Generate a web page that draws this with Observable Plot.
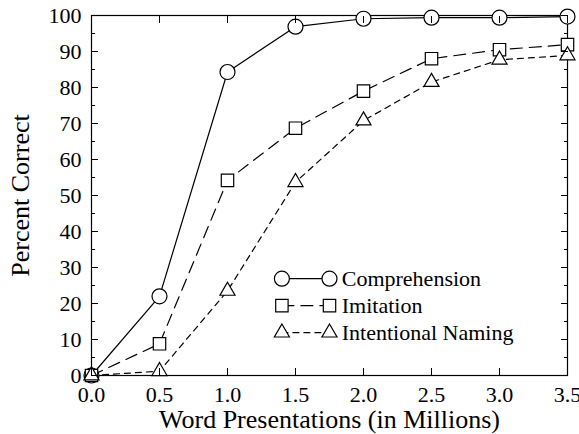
<!DOCTYPE html>
<html><head><meta charset="utf-8">
<script src="https://cdn.jsdelivr.net/npm/d3@7"></script>
<script src="https://cdn.jsdelivr.net/npm/@observablehq/plot@0.6"></script>
<style>
body{margin:0;background:#fff}
svg text, svg g{font-family:"Liberation Serif", serif !important}
[aria-label="x-axis label"] text,[aria-label="y-axis label"] text{font-size:26px}
</style></head><body><div id="chart"></div>
<script>
const presentations = [0, 0.5, 1.0, 1.5, 2.0, 2.5, 3.0, 3.5];
const comprehension = [0, 22, 84.3, 96.9, 99.1, 99.4, 99.4, 99.7];
const imitation = [0, 8.8, 54.2, 68.7, 79.0, 88.0, 90.5, 91.9];
const naming = [0, 1.2, 23.5, 53.7, 70.8, 81.5, 87.7, 88.9];
const seriesNames = ["Comprehension", "Imitation", "Intentional Naming"];
const xTicks = [0, 0.5, 1.0, 1.5, 2.0, 2.5, 3.0, 3.5];
const yTicks = [0, 10, 20, 30, 40, 50, 60, 70, 80, 90, 100];
const yMinorTicks = [5, 15, 25, 35, 45, 55, 65, 75, 85, 95];

const values = [comprehension, imitation, naming];
const symbols = ["circle", "square", "triangle"];
const radii = [7.5, 7, 5.6];
const dashes = [null, "12,7", "6,5"];
const serif = "Liberation Serif";

const rows = (i) => presentations.map((x, j) => ({x, y: values[i][j], series: seriesNames[i]}));

// legend placement (in data units, inside the frame)
const legX1 = 1.4, legX2 = 1.75, legTextX = 1.84;
const legY = [26.9, 19.4, 11.9];
const legendRows = (i) => [{x: legX1, y: legY[i]}, {x: legX2, y: legY[i]}];

const sw = 1.2;
const marks = [];
marks.push(Plot.frame({stroke: "black", strokeWidth: sw}));
for (let i = 0; i < 3; i++) {
  marks.push(Plot.line(rows(i), {x: "x", y: "y", stroke: "black", strokeWidth: sw, strokeDasharray: dashes[i]}));
  marks.push(Plot.line(legendRows(i), {x: "x", y: "y", stroke: "black", strokeWidth: sw, strokeDasharray: dashes[i]}));
}
for (let i = 0; i < 3; i++) {
  marks.push(Plot.dot(rows(i), {x: "x", y: "y", symbol: symbols[i], r: radii[i], fill: "white", stroke: "black", strokeWidth: sw}));
  marks.push(Plot.dot(legendRows(i), {x: "x", y: "y", symbol: symbols[i], r: radii[i], fill: "white", stroke: "black", strokeWidth: sw}));
  marks.push(Plot.text([seriesNames[i]], {x: legTextX, y: legY[i], text: d => d, textAnchor: "start", lineAnchor: "middle", fontSize: 22, fontFamily: serif, fill: "black"}));
}
const blank = () => "";
marks.push(
  Plot.axisX(xTicks, {anchor: "bottom", tickSize: -7, tickPadding: 18, fontSize: 22, fontFamily: serif, fontVariant: "normal", tickFormat: d3.format(".1f"),
    label: "Word Presentations (in Millions)", labelAnchor: "center", labelOffset: 52, labelArrow: "none"}),
  Plot.axisX(xTicks, {anchor: "top", tickSize: -7, tickFormat: blank, label: null}),
  Plot.axisY(yTicks, {anchor: "left", tickSize: -7, tickPadding: 17, fontSize: 22, fontFamily: serif, fontVariant: "normal",
    label: "Percent Correct", labelAnchor: "center", labelOffset: 81, labelArrow: "none"}),
  Plot.axisY(yMinorTicks, {anchor: "left", tickSize: -4, tickFormat: blank, label: null}),
  Plot.axisY(yTicks, {anchor: "right", tickSize: -7, tickFormat: blank, label: null}),
  Plot.axisY(yMinorTicks, {anchor: "right", tickSize: -4, tickFormat: blank, label: null})
);

const chart = Plot.plot({
  width: 579, height: 434,
  marginLeft: 91, marginRight: 12, marginTop: 15, marginBottom: 59,
  style: {background: "white", color: "black", fontSize: "22px", fontFamily: "Liberation Serif"},
  x: {domain: [0, 3.5]},
  y: {domain: [0, 100]},
  marks
});
document.getElementById("chart").append(chart);
</script></body></html>
